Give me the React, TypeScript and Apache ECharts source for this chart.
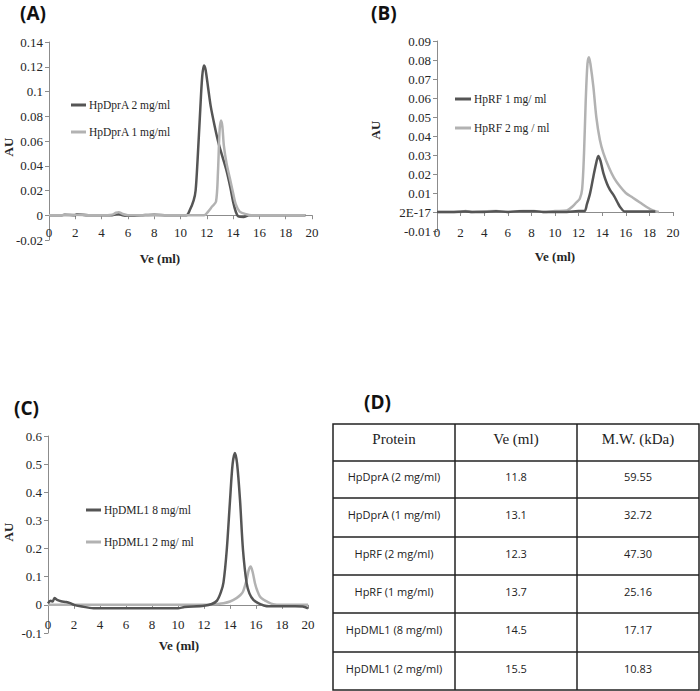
import React, { useEffect, useRef } from 'react';
import * as echarts from 'echarts';

// ---------- data ----------
const dprA2: number[][] = [
  [0, 0], [1, 0], [1.2, 0.0005], [2, 0], [2.1, 0.0008], [3, 0], [4, 0], [4.8, 0], [5.1, 0.001], [5.3, 0.0012],
  [5.6, 0], [6, -0.0005], [7, 0], [8, 0.0005], [9, 0], [10, 0], [10.45, 0], [10.7, 0.004], [11.0, 0.012],
  [11.15, 0.02], [11.3, 0.045], [11.5, 0.085], [11.65, 0.112], [11.78, 0.121], [11.9, 0.118], [12.1, 0.103],
  [12.3, 0.088], [12.6, 0.072], [12.9, 0.058], [13.2, 0.047], [13.5, 0.036], [13.8, 0.022], [14.0, 0.011],
  [14.2, 0.003], [14.4, -0.001], [14.8, -0.0015], [15.2, 0], [16, 0], [18, 0], [19.5, 0],
];
const dprA1: number[][] = [
  [0, 0], [1, 0], [2, 0.0005], [3, 0], [4, 0], [4.8, 0.0005], [5.1, 0.002], [5.3, 0.0025], [5.6, 0.001], [6, 0],
  [7, 0], [8, 0], [9, 0], [10, 0], [11, 0], [11.8, 0], [12.1, 0.003], [12.4, 0.007], [12.7, 0.011], [12.85, 0.035],
  [12.97, 0.068], [13.08, 0.0765], [13.18, 0.072], [13.3, 0.056], [13.5, 0.042], [13.75, 0.03], [14.0, 0.018],
  [14.2, 0.009], [14.5, 0.003], [15, 0.0008], [15.4, 0], [17, 0], [19.5, 0],
];
const rf1: number[][] = [
  [0, 0], [0.5, 0], [1.2, 0], [2.4, 0.0003], [3, 0], [4, 0], [5, 0.0004], [6, 0], [7, 0.0004], [8.3, 0.0004],
  [9, 0], [10, 0], [11, 0], [12, 0.0005], [12.5, 0.0005], [12.7, 0.004], [12.97, 0.0098], [13.25, 0.0186],
  [13.5, 0.026], [13.67, 0.0295], [13.85, 0.027], [14.1, 0.0205], [14.4, 0.015], [14.66, 0.0116], [15.0, 0.0085],
  [15.3, 0.005], [15.5, 0.0028], [15.9, 0.0003], [16.5, 0.0003], [17.5, 0.0003], [18.5, 0.0003],
];
const rf2: number[][] = [
  [0, 0], [1, 0], [2, 0], [2.4, 0.0005], [3, 0], [4.2, 0.0004], [5, 0.0005], [6, 0], [6.8, 0.0004], [7.3, 0.0005],
  [8.2, 0.0005], [9, 0], [10, 0.0005], [11, 0.0008], [11.5, 0.003], [11.8, 0.005], [12.1, 0.007], [12.3, 0.012],
  [12.46, 0.031], [12.6, 0.058], [12.75, 0.078], [12.88, 0.0815], [13.0, 0.078], [13.25, 0.066], [13.5, 0.05],
  [13.8, 0.038], [14.1, 0.031], [14.6, 0.023], [15.0, 0.018], [15.5, 0.0135], [16.0, 0.01], [16.6, 0.0075],
  [17.2, 0.005], [17.8, 0.0025], [18.3, 0.0008], [18.8, 0],
];
const dml8: number[][] = [
  [0, 0.005], [0.2, 0.015], [0.35, 0.012], [0.5, 0.024], [0.7, 0.018], [1.0, 0.013], [1.4, 0.01], [1.7, 0.006],
  [2.0, 0], [2.5, -0.005], [3.5, -0.012], [6, -0.012], [10, -0.012], [10.5, -0.008], [12, -0.003], [12.6, 0.003],
  [13.0, 0.015], [13.3, 0.045], [13.5, 0.08], [13.75, 0.195], [14.0, 0.37], [14.2, 0.5], [14.38, 0.54],
  [14.55, 0.5], [14.77, 0.373], [15.0, 0.195], [15.28, 0.077], [15.5, 0.04], [15.8, 0.018], [16.2, 0.005],
  [16.6, -0.002], [17, -0.005], [19, -0.005], [19.6, -0.006], [20, -0.012],
];
const dml2: number[][] = [
  [0, 0], [2, 0], [4, 0], [10, 0], [12, 0], [12.5, 0.001], [13.0, 0.003], [13.5, 0.006], [14.0, 0.012],
  [14.5, 0.024], [14.8, 0.035], [15.0, 0.047], [15.28, 0.089], [15.45, 0.125], [15.59, 0.136], [15.75, 0.115],
  [15.92, 0.077], [16.1, 0.05], [16.3, 0.03], [16.6, 0.018], [16.82, 0.012], [17.33, 0.002], [18, 0], [20, 0],
];

const seriesNames = {
  dprA2: 'HpDprA 2 mg/ml',
  dprA1: 'HpDprA 1 mg/ml',
  rf1: 'HpRF 1 mg/ ml',
  rf2: 'HpRF 2 mg / ml',
  dml8: 'HpDML1 8 mg/ml',
  dml2: 'HpDML1 2 mg/ ml',
};

const tableHeader = ['Protein', 'Ve (ml)', 'M.W. (kDa)'];
const tableProteins = ['HpDprA (2 mg/ml)', 'HpDprA (1 mg/ml)', 'HpRF (2 mg/ml)', 'HpRF (1 mg/ml)', 'HpDML1 (8 mg/ml)', 'HpDML1 (2 mg/ml)'];
const tableVe = ['11.8', '13.1', '12.3', '13.7', '14.5', '15.5'];
const tableMW = ['59.55', '32.72', '47.30', '25.16', '17.17', '10.83'];

// ---------- styles ----------
const DARK = '#555555';
const LIGHT = '#b2b2b2';
const AXIS = '#8c8c8c';
const TEXT = '#262626';
const SERIF = '"Liberation Serif", "Times New Roman", serif';
const SANS = '"Open Sans", "Noto Sans", sans-serif';

const grids = [
  { left: 49, top: 42, width: 263, height: 198, yMin: -0.02, yMax: 0.14, yInt: 0.02, labelMargin: 11 },
  { left: 437, top: 41, width: 236, height: 190, yMin: -0.01, yMax: 0.09, yInt: 0.01, labelMargin: 14 },
  { left: 48, top: 436, width: 260, height: 197, yMin: -0.1, yMax: 0.6, yInt: 0.1, labelMargin: 13 },
];

function xAxisFor(gridIndex: number) {
  const g = grids[gridIndex];
  // put the axis line where y = 0 sits inside the grid
  const offset = -g.height * (0 - g.yMin) / (g.yMax - g.yMin);
  return {
    type: 'value', gridIndex, min: 0, max: 20, interval: 2, position: 'bottom', offset,
    axisLine: { onZero: false, lineStyle: { color: AXIS, width: 1 } },
    axisTick: { show: true, length: 4, lineStyle: { color: AXIS } },
    axisLabel: { margin: g.labelMargin, color: TEXT, fontFamily: SERIF, fontSize: 13 },
    splitLine: { show: false },
  };
}

function yAxisFor(gridIndex: number, fmt?: (v: number) => string) {
  const g = grids[gridIndex];
  return {
    type: 'value', gridIndex, min: g.yMin, max: g.yMax, interval: g.yInt,
    axisLine: { show: true, onZero: false, lineStyle: { color: AXIS, width: 1 } },
    axisTick: { show: true, length: 4, lineStyle: { color: AXIS } },
    axisLabel: { margin: 6, color: TEXT, fontFamily: SERIF, fontSize: 13, formatter: fmt },
    splitLine: { show: false },
  };
}

function line(name: string, data: number[][], idx: number, color: string) {
  return {
    type: 'line', name, data, xAxisIndex: idx, yAxisIndex: idx,
    showSymbol: false, symbol: 'none', smooth: 0.3,
    lineStyle: { color, width: 2.5 }, itemStyle: { color },
  };
}

function legendFor(names: string[], left: number, top: number, gap: number, itemWidth: number) {
  return {
    data: names, left, top, orient: 'vertical', itemGap: gap, icon: 'rect',
    itemWidth, itemHeight: 3, padding: 0, selectedMode: false,
    textStyle: { fontFamily: SERIF, fontSize: 11.5, color: TEXT, padding: [0, 0, 0, -2] },
  };
}

function panelLabel(text: string, x: number, y: number) {
  return {
    type: 'text', x, y,
    style: { text, fontFamily: SANS, fontWeight: 'bold', fontSize: 19, fill: '#111', align: 'left', verticalAlign: 'middle' },
  };
}
function axisTitle(text: string, x: number, y: number, rotate: boolean) {
  return {
    type: 'text', x, y, rotation: rotate ? Math.PI / 2 : 0,
    style: { text, fontFamily: SERIF, fontWeight: 'bold', fontSize: 13, fill: TEXT, align: 'center', verticalAlign: 'middle' },
  };
}

function buildTable() {
  const left = 333, right = 699, top = 424;
  const rowLines = [461, 498, 537, 575, 613, 652, 690];
  const colLines = [455, 577];
  const colX = [left, colLines[0], colLines[1], right];
  const els: any[] = [];
  els.push({ type: 'rect', shape: { x: left, y: top, width: right - left, height: rowLines[rowLines.length - 1] - top }, style: { fill: 'none', stroke: '#222', lineWidth: 1.5 } });
  colLines.forEach((x) => els.push({ type: 'line', shape: { x1: x, y1: top, x2: x, y2: rowLines[rowLines.length - 1] }, style: { stroke: '#222', lineWidth: 1.5 } }));
  rowLines.slice(0, -1).forEach((y) => els.push({ type: 'line', shape: { x1: left, y1: y, x2: right, y2: y }, style: { stroke: '#222', lineWidth: 1.5 } }));
  tableHeader.forEach((t, i) => {
    els.push({ type: 'text', x: (colX[i] + colX[i + 1]) / 2, y: (top + rowLines[0]) / 2 - 4,
      style: { text: t, fontFamily: SERIF, fontSize: 15, fill: '#222', align: 'center', verticalAlign: 'middle' } });
  });
  const cols = [tableProteins, tableVe, tableMW];
  for (let r = 0; r < tableProteins.length; r++) {
    const yc = (rowLines[r] + rowLines[r + 1]) / 2 - 3;
    cols.forEach((col, i) => {
      els.push({ type: 'text', x: (colX[i] + colX[i + 1]) / 2, y: yc,
        style: { text: col[r], fontFamily: SANS, fontSize: 11, fill: '#222', align: 'center', verticalAlign: 'middle' } });
    });
  }
  return els;
}

export default function App() {
  const ref = useRef<HTMLDivElement>(null);
  useEffect(() => {
    if (!ref.current) return;
    const chart = echarts.init(ref.current, null, { renderer: 'svg' });
    const option: any = {
      animation: false,
      backgroundColor: '#ffffff',
      grid: grids.map((g) => ({ left: g.left, top: g.top, width: g.width, height: g.height })),
      xAxis: [xAxisFor(0), xAxisFor(1), xAxisFor(2)],
      yAxis: [
        yAxisFor(0),
        yAxisFor(1, (v: number) => (Math.abs(v) < 1e-9 ? '2E-17' : String(+v.toFixed(2)))),
        yAxisFor(2),
      ],
      legend: [
        legendFor([seriesNames.dprA2, seriesNames.dprA1], 71, 99, 15, 15),
        legendFor([seriesNames.rf1, seriesNames.rf2], 455, 93, 17, 16),
        legendFor([seriesNames.dml8, seriesNames.dml2], 86, 504, 20, 15),
      ],
      series: [
        line(seriesNames.dprA2, dprA2, 0, DARK),
        line(seriesNames.dprA1, dprA1, 0, LIGHT),
        line(seriesNames.rf2, rf2, 1, LIGHT),
        line(seriesNames.rf1, rf1, 1, DARK),
        line(seriesNames.dml2, dml2, 2, LIGHT),
        line(seriesNames.dml8, dml8, 2, DARK),
      ],
      graphic: [
        panelLabel('(A)', 20, 13),
        panelLabel('(B)', 371, 13),
        panelLabel('(C)', 14, 408),
        panelLabel('(D)', 364, 402),
        axisTitle('AU', 8, 147, true),
        axisTitle('AU', 375, 130, true),
        axisTitle('AU', 8, 532, true),
        axisTitle('Ve (ml)', 160, 258, false),
        axisTitle('Ve (ml)', 555, 256, false),
        axisTitle('Ve (ml)', 179, 645, false),
        ...buildTable(),
      ],
    };
    chart.setOption(option);
    return () => chart.dispose();
  }, []);
  return <div ref={ref} style={{ position: 'absolute', left: 0, top: 0, width: 700, height: 691 }} />;
}
